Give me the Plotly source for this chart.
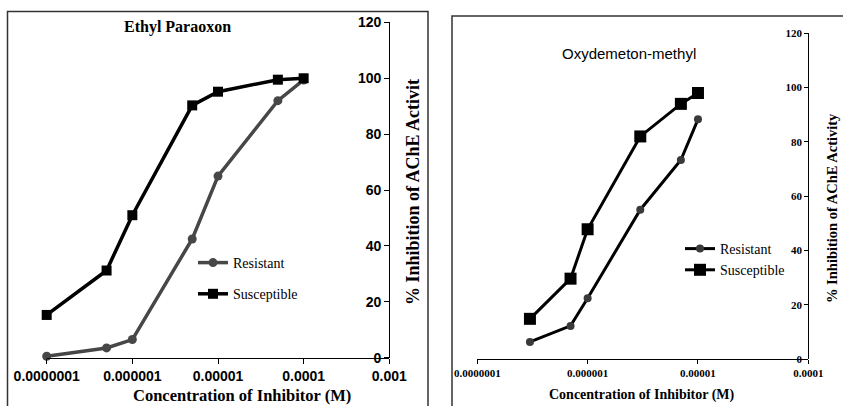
import plotly.graph_objects as go

W, H = 843, 406

# ---------- data ----------
ep_x_res = [1e-7, 5e-7, 1e-6, 5e-6, 1e-5, 5e-5, 1e-4]
ep_y_res = [0.5, 3.5, 6.5, 42.5, 65, 92, 99.4]
ep_x_sus = [1e-7, 5e-7, 1e-6, 5e-6, 1e-5, 5e-5, 1e-4]
ep_y_sus = [15.3, 31.2, 51, 90.3, 95.2, 99.5, 100]

om_x_res = [3e-7, 7e-7, 1e-6, 3e-6, 7e-6, 1e-5]
om_y_res = [6.3, 12.2, 22.4, 55, 73.3, 88.3]
om_x_sus = [3e-7, 7e-7, 1e-6, 3e-6, 7e-6, 1e-5]
om_y_sus = [14.8, 29.6, 47.8, 82, 94, 98]

ep_ticks = [1e-7, 1e-6, 1e-5, 1e-4, 1e-3]
ep_ticktext = ["0.0000001", "0.000001", "0.00001", "0.0001", "0.001"]
om_ticks = [1e-7, 1e-6, 1e-5, 1e-4]
om_ticktext = ["0.0000001", "0.000001", "0.00001", "0.0001"]
y_ticks = [0, 20, 40, 60, 80, 100, 120]

SANS = "Liberation Sans, Arial, sans-serif"
SERIF = "Liberation Serif, Times New Roman, serif"


def px(x):
    return x / W


def py(y):
    return 1 - y / H


fig = go.Figure()

# Left panel traces
fig.add_trace(go.Scatter(x=ep_x_res, y=ep_y_res, name="Resistant", mode="lines+markers",
                         line=dict(color="#474747", width=3.5),
                         marker=dict(symbol="circle", size=9, color="#474747"),
                         xaxis="x", yaxis="y", legend="legend", legendgroup="a", cliponaxis=False))
fig.add_trace(go.Scatter(x=ep_x_sus, y=ep_y_sus, name="Susceptible", mode="lines+markers",
                         line=dict(color="#000000", width=3.5),
                         marker=dict(symbol="square", size=10, color="#000000"),
                         xaxis="x", yaxis="y", legend="legend", legendgroup="b", cliponaxis=False))
# Right panel traces
fig.add_trace(go.Scatter(x=om_x_res, y=om_y_res, name="Resistant", mode="lines+markers",
                         line=dict(color="#000000", width=3),
                         marker=dict(symbol="circle", size=8, color="#3a3a3a"),
                         xaxis="x2", yaxis="y2", legend="legend2", legendgroup="c", cliponaxis=False))
fig.add_trace(go.Scatter(x=om_x_sus, y=om_y_sus, name="Susceptible", mode="lines+markers",
                         line=dict(color="#000000", width=3),
                         marker=dict(symbol="square", size=12, color="#000000"),
                         xaxis="x2", yaxis="y2", legend="legend2", legendgroup="d", cliponaxis=False))

axis_common = dict(showgrid=False, zeroline=False, showline=True, linecolor="#000000",
                   linewidth=1.2, tickcolor="#000000", tickwidth=1.2, automargin=False)
tick_only = dict(showgrid=False, zeroline=False, showline=False, showticklabels=False,
                 tickcolor="#000000", tickwidth=1.2, automargin=False)

L_X0, L_X1 = 46.7, 389.3
R_X0, R_X1 = 477.3, 808.3

fig.update_layout(
    width=W, height=H,
    margin=dict(l=0, r=0, t=0, b=0, pad=0),
    paper_bgcolor="white", plot_bgcolor="white",
    font=dict(family=SERIF, color="#000000"),
    xaxis=dict(type="log", domain=[px(L_X0), px(L_X1)], range=[-7, -3], anchor="y",
               tickvals=ep_ticks, ticktext=ep_ticktext, ticks="outside", ticklen=5,
               tickfont=dict(family=SANS, size=14, color="#000000", weight="bold"), **axis_common),
    yaxis=dict(domain=[py(357.7), py(22.4)], range=[0, 120], anchor="free", position=px(L_X1),
               side="left", tickvals=y_ticks, ticks="outside", ticklen=5,
               tickfont=dict(family=SANS, size=14, color="#000000", weight="bold"), **axis_common),
    xaxis3=dict(type="log", overlaying="x", anchor="y", side="bottom", range=[-7, -3],
                tickvals=ep_ticks, ticks="inside", ticklen=5, **tick_only),
    yaxis3=dict(overlaying="y", anchor="free", position=px(L_X1), side="right", range=[0, 120],
                tickvals=y_ticks, ticks="outside", ticklen=4, **tick_only),
    xaxis2=dict(type="log", domain=[px(R_X0), px(R_X1)], range=[-7, -4], anchor="y2",
                tickvals=om_ticks, ticktext=om_ticktext, ticks="outside", ticklen=4,
                tickfont=dict(family=SERIF, size=11, color="#000000", weight="bold"), **axis_common),
    yaxis2=dict(domain=[py(359), py(33.3)], range=[0, 120], anchor="free", position=px(R_X1),
                side="left", tickvals=y_ticks, ticks="outside", ticklen=4,
                tickfont=dict(family=SERIF, size=11, color="#000000", weight="bold"), **axis_common),
    xaxis4=dict(type="log", overlaying="x2", anchor="y2", side="bottom", range=[-7, -4],
                tickvals=om_ticks, ticks="inside", ticklen=4, **tick_only),
    yaxis4=dict(overlaying="y2", anchor="free", position=px(R_X1), side="right", range=[0, 120],
                tickvals=y_ticks, ticks="outside", ticklen=3, **tick_only),
    legend=dict(x=px(193), y=py(247), xanchor="left", yanchor="top", bgcolor="rgba(0,0,0,0)",
                font=dict(family=SERIF, size=14, color="#000000"), tracegroupgap=10,
                itemwidth=30),
    legend2=dict(x=px(680), y=py(233), xanchor="left", yanchor="top", bgcolor="rgba(0,0,0,0)",
                 font=dict(family=SERIF, size=14, color="#000000"), tracegroupgap=0,
                 itemwidth=30),
)

annotations = [
    dict(text="<b>Ethyl Paraoxon</b>", x=px(177), y=py(27),
         font=dict(family=SERIF, size=16)),
    dict(text="<b>Concentration of Inhibitor (M)</b>", x=px(242), y=py(395),
         font=dict(family=SERIF, size=16.5)),
    dict(text="<b>% Inhibition of AChE Activit</b>", x=px(413), y=py(192), textangle=-90,
         font=dict(family=SERIF, size=18)),
    dict(text="Oxydemeton-methyl", x=px(629), y=py(53),
         font=dict(family=SANS, size=15)),
    dict(text="<b>Concentration of Inhibitor (M)</b>", x=px(642), y=py(395),
         font=dict(family=SERIF, size=14)),
    dict(text="<b>% Inhibition of AChE Activity</b>", x=px(832), y=py(208), textangle=-90,
         font=dict(family=SERIF, size=14.5)),
]
for a in annotations:
    a.update(xref="paper", yref="paper", showarrow=False, xanchor="center", yanchor="middle")
    fig.add_annotation(**a)

# panel frames
fig.add_shape(type="rect", xref="paper", yref="paper", x0=px(7.5), x1=px(428), y0=py(420), y1=py(11.5),
              line=dict(color="#333333", width=1.5))
fig.add_shape(type="rect", xref="paper", yref="paper", x0=px(452), x1=px(860), y0=py(420), y1=py(16),
              line=dict(color="#333333", width=1.5))

fig.write_html("out.html")
